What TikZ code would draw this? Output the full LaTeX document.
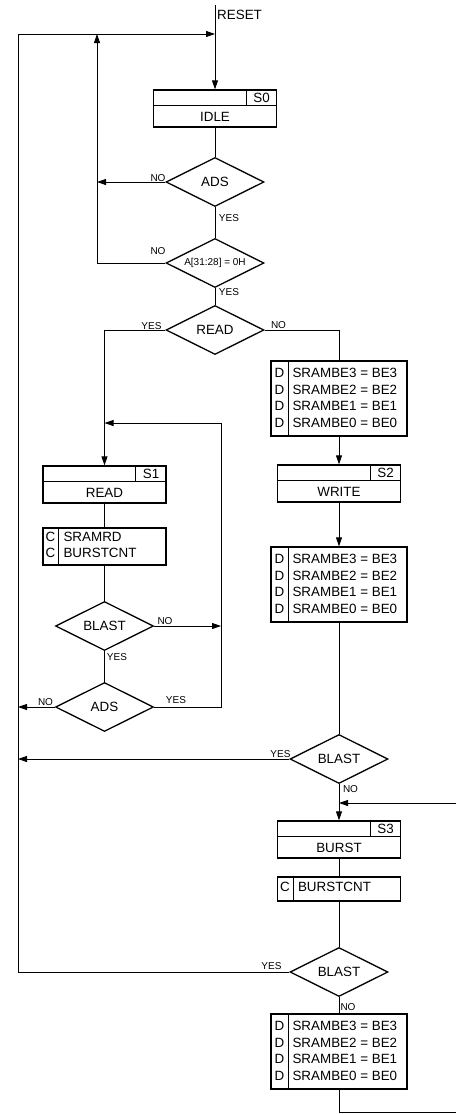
\documentclass[tikz,border=0pt]{standalone}
\usepackage{fontspec}
\setmainfont{Liberation Sans}
\usetikzlibrary{shapes.geometric,arrows.meta,calc}
\newcommand\mybig{\fontsize{13.4}{16}\selectfont}
\newcommand\mysmall{\fontsize{10}{12}\selectfont}
\tikzset{
 sbox/.style={draw, line width=1.3pt, rectangle, inner sep=0pt},
 divline/.style={line width=0.7pt},
 dia/.style={draw, diamond, line width=1.3pt, minimum width=98pt, minimum height=49pt, inner sep=0pt, aspect=2, font=\mybig},
 conn/.style={line width=0.8pt},
 arr/.style={conn, -{Triangle[length=9pt,width=6pt]}},
 lbl/.style={inner sep=0pt, font=\mysmall},
 txt/.style={inner sep=0pt, font=\mybig}
}
% state box: name, center x, top y, state label, state name
\newcommand\mystate[5]{%
 \node[sbox, minimum width=123pt, minimum height=37pt] (#1) at (#2,#3+18.5) {};
 \draw[divline] ($(#1.north west)+(0,16)$) -- ($(#1.north east)+(0,16)$);
 \draw[divline] ($(#1.north east)+(-31,0)$) -- ($(#1.north east)+(-31,16)$);
 \node[txt] at ($(#1.north east)+(-15.5,8.5)$) {#4};
 \node[txt] at ($(#1.south)+(0,-10.5)$) {#5};
}
% D box: name, top y
\newcommand\mydbox[2]{%
 \node[sbox, minimum width=136pt, minimum height=75pt] (#1) at (339,#2+37.5) {};
 \draw[divline] ($(#1.north west)+(18,0)$) -- ($(#1.south west)+(18,0)$);
 \foreach \i/\t in {0/3,1/2,2/1,3/0} {
   \node[txt, anchor=base] at ($(#1.north west)+(9,17.5+16.4*\i)$) {D};
   \node[txt, anchor=base west] at ($(#1.north west)+(22,17.5+16.4*\i)$) {SRAMBE\t{} = BE\t};
 }
}
\begin{document}
\begin{tikzpicture}[x=1pt,y=-1pt]
\useasboundingbox (0,0) rectangle (456,1114);

% state boxes
\mystate{s0}{215}{90}{S0}{IDLE}
\mystate{s1}{104.5}{466}{S1}{READ}
\mystate{s2}{339}{465}{S2}{WRITE}
\mystate{s3}{339}{821}{S3}{BURST}

% D boxes
\mydbox{d1}{361}
\mydbox{d2}{547}
\mydbox{d3}{1014}

% C boxes
\node[sbox, minimum width=123pt, minimum height=37pt] (c1) at (104.5,546.5) {};
\draw[divline] ($(c1.north west)+(16,0)$) -- ($(c1.south west)+(16,0)$);
\node[txt, anchor=base] at ($(c1.north west)+(8,14.6)$) {C};
\node[txt, anchor=base west] at ($(c1.north west)+(21,14.6)$) {SRAMRD};
\node[txt, anchor=base] at ($(c1.north west)+(8,30.6)$) {C};
\node[txt, anchor=base west] at ($(c1.north west)+(21,30.6)$) {BURSTCNT};

\node[sbox, minimum width=123pt, minimum height=24pt] (c2) at (339,889) {};
\draw[divline] ($(c2.north west)+(16,0)$) -- ($(c2.south west)+(16,0)$);
\node[txt, anchor=base] at ($(c2.north west)+(8,15.6)$) {C};
\node[txt, anchor=base west] at ($(c2.north west)+(21,15.6)$) {BURSTCNT};

% decisions
\node[dia] (ads1) at (215,182) {ADS};
\node[dia, font=\mysmall] (aaddr) at (215,263) {A[31:28] = 0H};
\node[dia] (read) at (215,330) {READ};
\node[dia] (blast1) at (104.5,626) {BLAST};
\node[dia] (ads2) at (104.5,707) {ADS};
\node[dia] (blast2) at (339,759) {BLAST};
\node[dia] (blast3) at (339,972) {BLAST};

% connectors
\coordinate (rst) at (215,5);
\draw[arr] (rst) -- (s0.north);
\node[txt, anchor=west] at (217,15) {RESET};
\draw[conn] (s0.south) -- (ads1.north);
\draw[conn] (ads1.south) -- (aaddr.north);
\draw[conn] (aaddr.south) -- (read.north);

\coordinate (m1) at (97,182);
\draw[arr] (ads1.west) -- (m1);
\coordinate (m2) at (97,263);
\coordinate (mtop) at (97,34);
\draw[arr] (aaddr.west) -- (m2) -- (mtop);

\coordinate (ltop) at (18,34);
\coordinate (rtop) at (215,34);
\coordinate (l3) at (18,972);
\draw[arr] (blast3.west) -- (l3) -- (ltop) -- (rtop);

\draw[arr] (read.west) -| (s1.north);
\draw[conn] (read.east) -| (d1.north);
\draw[arr] (d1.south) -- (s2.north);
\draw[arr] (s2.south) -- (d2.north);
\draw[conn] (d2.south) -- (blast2.north);
\coordinate (l2) at (18,759);
\draw[arr] (blast2.west) -- (l2);
\draw[arr] (blast2.south) -- (s3.north);
\coordinate (rin) at (456,803);
\coordinate (jin) at (339,803);
\draw[arr] (rin) -- (jin);
\draw[conn] (s3.south) -- (c2.north);
\draw[conn] (c2.south) -- (blast3.north);
\draw[conn] (blast3.south) -- (d3.north);
\coordinate (bot1) at (339,1112.5);
\coordinate (bot2) at (456,1112.5);
\draw[conn] (d3.south) -- (bot1) -- (bot2);

\draw[conn] (s1.south) -- (c1.north);
\draw[conn] (c1.south) -- (blast1.north);
\draw[conn] (blast1.south) -- (ads2.north);
\coordinate (k1) at (221,626);
\draw[arr] (blast1.east) -- (k1);
\coordinate (k2) at (221,707);
\coordinate (k3) at (221,423);
\coordinate (k4) at (104.5,423);
\draw[arr] (ads2.east) -- (k2) -- (k3) -- (k4);
\coordinate (l1) at (18,707);
\draw[arr] (ads2.west) -- (l1);

% labels
\node[lbl] at (158,178) {NO};
\node[lbl] at (229,218) {YES};
\node[lbl] at (158,251) {NO};
\node[lbl] at (229,292) {YES};
\node[lbl] at (151.5,326) {YES};
\node[lbl] at (278.5,325) {NO};
\node[lbl] at (165,621) {NO};
\node[lbl] at (117,657) {YES};
\node[lbl] at (45.5,702) {NO};
\node[lbl] at (176,700.5) {YES};
\node[lbl] at (280.5,754) {YES};
\node[lbl] at (350.5,789) {NO};
\node[lbl] at (271.5,966) {YES};
\node[lbl] at (348,1007) {NO};
\end{tikzpicture}
\end{document}
